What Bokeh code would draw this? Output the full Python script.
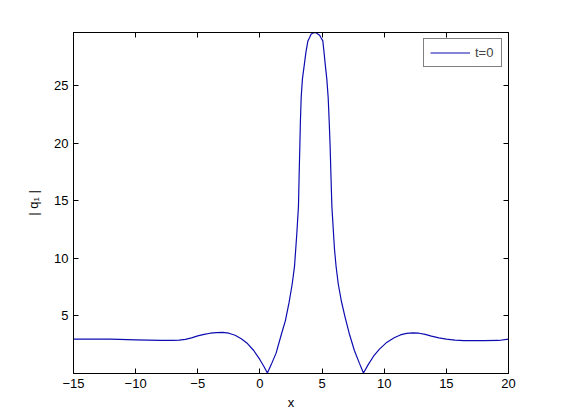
from bokeh.plotting import figure
from bokeh.models import LinearAxis, FixedTicker, Range1d, Legend, LegendItem
from bokeh.embed import file_html
from bokeh.resources import INLINE

x_vals = [-15, -12, -10, -8, -7, -6.5, -6.0, -5.5, -5.0, -4.5, -4.0, -3.5, -3.0, -2.5, -2.0,
          -1.5, -1.0, -0.5, 0.0, 0.3, 0.6, 0.9, 1.3, 1.75, 2.05, 2.35, 2.6, 2.78, 2.88, 2.97,
          3.10, 3.15, 3.21, 3.26, 3.32, 3.42, 3.58, 3.7, 3.86, 4.0, 4.1, 4.25, 4.44, 4.6,
          4.8, 4.9, 5.06, 5.15, 5.25, 5.38, 5.49, 5.57, 5.65, 5.72, 5.79, 5.92, 6.0, 6.13,
          6.3, 6.55, 6.85, 7.18, 7.6, 8.0, 8.33, 8.7, 9.14, 9.6, 10.2, 10.8, 11.3, 11.8,
          12.3, 12.8, 13.3, 13.8, 14.4, 15.0, 15.7, 16.4, 18, 19.2, 20]
q1_abs = [2.98, 2.98, 2.93, 2.87, 2.87, 2.9, 2.97, 3.1, 3.27, 3.4, 3.5, 3.56, 3.57, 3.5, 3.32,
          3.02, 2.6, 2.0, 1.2, 0.65, 0.05, 0.75, 1.77, 3.5, 4.6, 6.2, 7.8, 9.28, 10.8, 12.18,
          14.5, 17.0, 19.7, 22.0, 24.0, 25.6, 26.9, 27.9, 28.9, 29.2, 29.45, 29.58, 29.63,
          29.55, 29.4, 29.2, 28.9, 28.0, 26.9, 25.6, 24.0, 22.0, 19.7, 17.0, 14.5, 12.18,
          10.8, 9.28, 7.8, 6.3, 4.9, 3.5, 2.0, 0.9, 0.05, 0.75, 1.5, 2.1, 2.7, 3.1, 3.35,
          3.48, 3.53, 3.5, 3.4, 3.25, 3.1, 2.98, 2.9, 2.86, 2.86, 2.87, 2.98]
x_ticks = [-15, -10, -5, 0, 5, 10, 15, 20]
y_ticks = [5, 10, 15, 20, 25]
series_label = "t=0"

FONT = "Liberation Sans"

p = figure(width=553, height=412, output_backend="svg", toolbar_location=None,
           x_range=Range1d(-15, 20), y_range=Range1d(0, 29.63),
           min_border_left=73, min_border_right=45, min_border_top=32, min_border_bottom=38)
p.xaxis.visible = False
p.yaxis.visible = False
p.grid.visible = False
p.outline_line_color = "black"
p.outline_line_width = 1
p.background_fill_color = "white"
p.border_fill_color = "white"

def style(ax, show_labels=True):
    ax.major_tick_in = 5
    ax.major_tick_out = 0
    ax.minor_tick_line_color = None
    ax.axis_line_color = "black"
    ax.major_tick_line_color = "black"
    ax.major_label_text_font = FONT
    ax.major_label_text_font_size = "13px"
    ax.major_label_text_color = "black"
    ax.major_label_standoff = 5
    ax.axis_label_text_font = FONT
    ax.axis_label_text_font_size = "13px"
    ax.axis_label_text_font_style = "normal"
    ax.axis_label_text_color = "black"
    if not show_labels:
        ax.major_label_text_alpha = 0
        ax.major_label_text_font_size = "1px"
        ax.major_label_standoff = 0

xb = LinearAxis(ticker=FixedTicker(ticks=x_ticks), axis_label="x")
style(xb)
xb.axis_label_standoff = 4
p.add_layout(xb, "below")
yl = LinearAxis(ticker=FixedTicker(ticks=y_ticks), axis_label="| q\u2081 |")
style(yl)
yl.axis_label_standoff = 10
p.add_layout(yl, "left")
xt = LinearAxis(ticker=FixedTicker(ticks=x_ticks))
style(xt, False)
p.add_layout(xt, "above")
yr = LinearAxis(ticker=FixedTicker(ticks=y_ticks))
style(yr, False)
p.add_layout(yr, "right")

r = p.line(x_vals, q1_abs, line_color="#0c0cb0", line_width=1.2)

leg = Legend(items=[LegendItem(label=series_label, renderers=[r])], location="top_right")
leg.margin = 6
leg.padding = 6
leg.spacing = 0
leg.glyph_width = 40
leg.glyph_height = 11
leg.label_height = 11
leg.label_standoff = 5
leg.label_text_font = FONT
leg.label_text_font_size = "13px"
leg.border_line_color = "black"
leg.border_line_width = 1
leg.background_fill_alpha = 1
p.add_layout(leg, "center")

open("out.html", "w").write(file_html(p, INLINE))
